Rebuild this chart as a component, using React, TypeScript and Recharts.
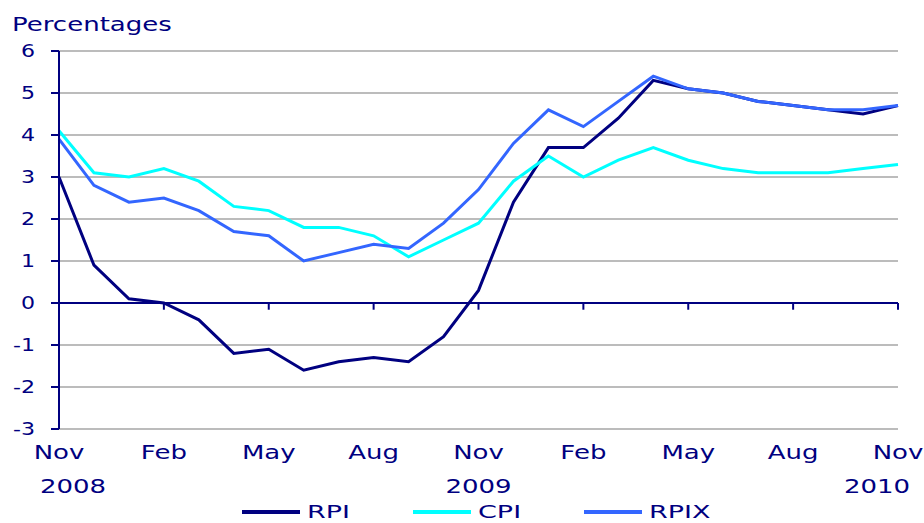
import { LineChart, Line, XAxis, YAxis, CartesianGrid, ReferenceLine, Legend } from "recharts";

const months = [
  "Nov 08", "Dec 08", "Jan 09", "Feb 09", "Mar 09", "Apr 09", "May 09", "Jun 09", "Jul 09",
  "Aug 09", "Sep 09", "Oct 09", "Nov 09", "Dec 09", "Jan 10", "Feb 10", "Mar 10", "Apr 10",
  "May 10", "Jun 10", "Jul 10", "Aug 10", "Sep 10", "Oct 10", "Nov 10",
];
const rpi = [3.0, 0.9, 0.1, 0.0, -0.4, -1.2, -1.1, -1.6, -1.4, -1.3, -1.4, -0.8, 0.3, 2.4, 3.7, 3.7, 4.4, 5.3, 5.1, 5.0, 4.8, 4.7, 4.6, 4.5, 4.7];
const cpi = [4.1, 3.1, 3.0, 3.2, 2.9, 2.3, 2.2, 1.8, 1.8, 1.6, 1.1, 1.5, 1.9, 2.9, 3.5, 3.0, 3.4, 3.7, 3.4, 3.2, 3.1, 3.1, 3.1, 3.2, 3.3];
const rpix = [3.9, 2.8, 2.4, 2.5, 2.2, 1.7, 1.6, 1.0, 1.2, 1.4, 1.3, 1.9, 2.7, 3.8, 4.6, 4.2, 4.8, 5.4, 5.1, 5.0, 4.8, 4.7, 4.6, 4.6, 4.7];
const yTicks = [-3, -2, -1, 0, 1, 2, 3, 4, 5, 6];
const years: Record<string, string> = { "Nov 08": "2008", "Nov 09": "2009", "Nov 10": "2010" };

const NAVY = "#000080";
const FONT = "DejaVu Sans, Verdana, sans-serif";
const STRETCH = 1.3;

const series = [
  { key: "rpi", name: "RPI", color: "#000080" },
  { key: "cpi", name: "CPI", color: "#00ffff" },
  { key: "rpix", name: "RPIX", color: "#3366ff" },
];

const data = months.map((m, i) => ({ month: m, rpi: rpi[i], cpi: cpi[i], rpix: rpix[i] }));
// little tick marks hanging off the zero line, every third month
const zeroTicks = months.filter((_, i) => i > 0 && i % 3 === 0);

const XTick = ({ x, y, payload, index }: any) => {
  const label: string = payload.value;
  const year = years[label];
  // first/last year labels sit a bit inside the plot in the original
  const yearShift = index === 0 ? 14 : label === "Nov 10" ? -21 : 0;
  return (
    <g transform={`translate(${x},${y})`}>
      <text transform={`scale(${STRETCH},1)`} textAnchor="middle" y={30} fill={NAVY} fontSize={20} fontFamily={FONT}>
        {label.slice(0, 3)}
      </text>
      {year && (
        <text transform={`translate(${yearShift},0) scale(${STRETCH},1)`} textAnchor="middle" y={64} fill={NAVY} fontSize={20} fontFamily={FONT}>
          {year}
        </text>
      )}
    </g>
  );
};

const YTick = ({ x, y, payload }: any) => (
  <g transform={`translate(${x},${y})`}>
    <text transform={`scale(${STRETCH},1)`} textAnchor="end" dy={6} fill={NAVY} fontSize={17} fontFamily={FONT}>
      {payload.value}
    </text>
  </g>
);

const LEGEND_STRETCH = 1.5;

const LegendContent = () => (
  <div style={{ display: "flex", justifyContent: "center", paddingLeft: 8, alignItems: "center", height: 18, fontFamily: FONT }}>
    {series.map((s, i) => (
      <div key={s.key} style={{ display: "flex", alignItems: "center", marginRight: i < series.length - 1 ? 77 : 0 }}>
        <span style={{ display: "inline-block", width: 58, height: 4, background: s.color, marginRight: 7 }} />
        <span
          style={{
            display: "inline-block", color: NAVY, fontSize: 18, lineHeight: "18px",
            transform: `scaleX(${LEGEND_STRETCH})`, transformOrigin: "left center",
          }}
        >
          {s.name}
        </span>
      </div>
    ))}
  </div>
);

export default function App() {
  return (
    <div style={{ position: "absolute", left: 0, top: 0, width: 924, height: 523, background: "#fff", overflow: "hidden" }}>
      <div
        style={{
          position: "absolute", left: 12, top: 14, fontSize: 20, lineHeight: 1, color: NAVY,
          fontFamily: FONT, transform: `scaleX(${STRETCH})`, transformOrigin: "left top", zIndex: 2,
        }}
      >
        Percentages
      </div>
      <LineChart width={924} height={523} data={data} margin={{ top: 51, right: 26, bottom: 0, left: 0 }}>
        <CartesianGrid vertical={false} stroke="#a6a6a6" strokeWidth={1.5} />
        <XAxis
          dataKey="month"
          interval={2}
          height={94}
          axisLine={false}
          tickLine={false}
          tickSize={0}
          tickMargin={0}
          tick={<XTick />}
        />
        <YAxis
          domain={[-3, 6]}
          ticks={yTicks}
          width={59}
          interval={0}
          axisLine={{ stroke: NAVY, strokeWidth: 2 }}
          tickLine={{ stroke: NAVY, strokeWidth: 2 }}
          tickSize={8}
          tickMargin={16}
          tick={<YTick />}
        />
        <ReferenceLine y={0} stroke={NAVY} strokeWidth={2} />
        {zeroTicks.map((m) => (
          <ReferenceLine
            key={m}
            segment={[{ x: m, y: 0 }, { x: m, y: -0.16 }]}
            stroke={NAVY}
            strokeWidth={2}
          />
        ))}
        {series.map((s) => (
          <Line
            key={s.key}
            dataKey={s.key}
            name={s.name}
            stroke={s.color}
            strokeWidth={3}
            dot={false}
            type="linear"
            isAnimationActive={false}
          />
        ))}
        <Legend
          verticalAlign="middle"
          content={<LegendContent />}
          wrapperStyle={{ top: 503, left: 0, width: 924, height: 18 }}
        />
      </LineChart>
    </div>
  );
}
